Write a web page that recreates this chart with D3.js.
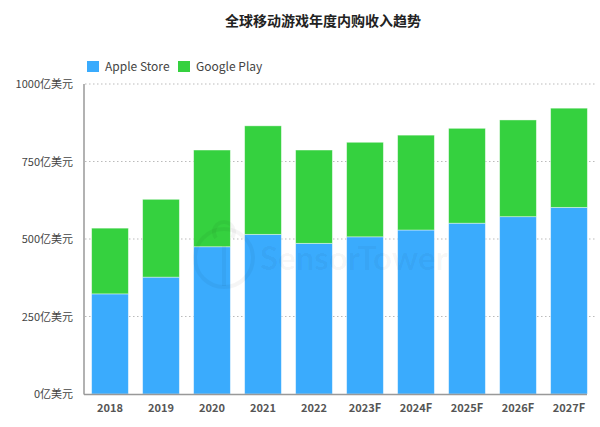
<!DOCTYPE html>
<html><head><meta charset="utf-8">
<script src="https://cdn.jsdelivr.net/npm/d3@7"></script>
<style>body{margin:0;background:#fff}svg{display:block}</style>
</head><body>
<script>
const categories = ["2018","2019","2020","2021","2022","2023F","2024F","2025F","2026F","2027F"];
const appleStore = [323, 377, 475, 515, 486, 507, 529, 551, 572, 602];
const googlePlay = [212, 251, 312, 350, 301, 305, 306, 306, 312, 320];
const yTicks = [0, 250, 500, 750, 1000];
const seriesNames = ["Apple Store", "Google Play"];
const colors = ["#3aabfd", "#35d13f"];

const W = 600, H = 427;
const svg = d3.select("body").append("svg").attr("width", W).attr("height", H);
const font = "'Noto Sans CJK SC','Noto Sans',Lato,sans-serif";

const y = d3.scaleLinear().domain([0, 1000]).range([394, 84]);
const x = d3.scaleBand().domain(categories).range([84.5, 594.5]).paddingInner(0.28).paddingOuter(0.14);

// title
svg.append("text").attr("x", 323).attr("y", 26).attr("text-anchor", "middle")
  .attr("font-family", font).attr("font-weight", "bold").attr("font-size", 14).attr("fill", "#222")
  .text("全球移动游戏年度内购收入趋势");

// legend
seriesNames.forEach((n, i) => {
  const lx = [87, 178][i];
  svg.append("rect").attr("x", lx).attr("y", 61).attr("width", 12).attr("height", 11).attr("fill", colors[i]);
  svg.append("text").attr("x", lx + 18).attr("y", 71).attr("font-family", font).attr("font-size", 12)
    .attr("fill", "#444").text(n);
});

// gridlines
svg.append("g").selectAll("line").data(yTicks.filter(d => d > 0)).join("line")
  .attr("x1", 85).attr("x2", 595).attr("y1", d => y(d)).attr("y2", d => y(d))
  .attr("stroke", "#bbb").attr("stroke-width", 1.2).attr("stroke-dasharray", "1.5,2.5");

// y axis labels
const yAxis = d3.axisLeft(y).tickValues(yTicks).tickSize(0).tickPadding(0).tickFormat(d => d + "亿美元");
const gy = svg.append("g").attr("transform", "translate(73,0)").call(yAxis);
gy.select(".domain").remove();
gy.selectAll("text").attr("font-family", font).attr("font-size", 11).attr("fill", "#444");

// stacks
const data = categories.map((c, i) => ({cat: c, apple: appleStore[i], google: googlePlay[i]}));
const stack = d3.stack().keys(["apple", "google"])(data);
svg.append("g").selectAll("g").data(stack).join("g").attr("fill", (d, i) => colors[i])
  .selectAll("rect").data(d => d).join("rect")
  .attr("x", d => x(d.data.cat)).attr("width", x.bandwidth())
  .attr("y", d => y(d[1])).attr("height", d => y(d[0]) - y(d[1]))
  .attr("stroke", "#fff").attr("stroke-opacity", 0.5).attr("stroke-width", 0.8);

// watermark (faint, over bars)
svg.append("circle").attr("cx", 224).attr("cy", 258).attr("r", 29).attr("fill", "none")
  .attr("stroke", "#000").attr("stroke-opacity", 0.04).attr("stroke-width", 4);
svg.append("path").attr("d", "M216,238 a10,10 0 1,1 16,0 M224,246 L224,286").attr("fill", "none")
  .attr("stroke", "#000").attr("stroke-opacity", 0.04).attr("stroke-width", 4);
svg.append("text").attr("x", 260).attr("y", 270).attr("font-family", "Lato,sans-serif").attr("font-weight", "bold")
  .attr("font-size", 33).attr("fill", "#000").attr("fill-opacity", 0.04).text("SensorTower");

// axis lines
svg.append("line").attr("x1", 84).attr("x2", 84).attr("y1", 84).attr("y2", 394.5).attr("stroke", "#999").attr("stroke-width", 1.5);
svg.append("line").attr("x1", 84).attr("x2", 587).attr("y1", 394.5).attr("y2", 394.5).attr("stroke", "#999").attr("stroke-width", 1.5);

// x axis labels
const xAxis = d3.axisBottom(x).tickSize(0).tickPadding(0);
const gx = svg.append("g").attr("transform", "translate(0,404)").call(xAxis);
gx.select(".domain").remove();
gx.selectAll("text").attr("font-family", font).attr("font-size", 11).attr("font-weight", "bold").attr("fill", "#555");
</script>
</body></html>
